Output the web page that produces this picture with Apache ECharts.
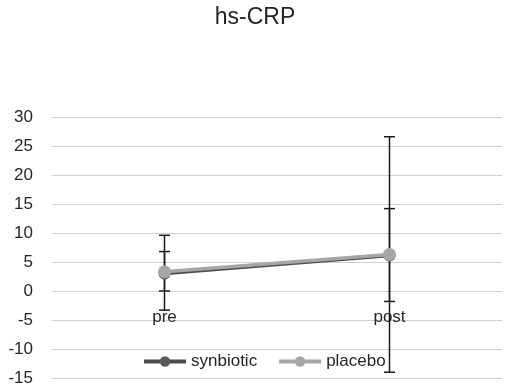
<!DOCTYPE html>
<html>
<head>
<meta charset="utf-8">
<script src="https://cdn.jsdelivr.net/npm/echarts@6/dist/echarts.min.js"></script>
<style>
  html, body { margin: 0; padding: 0; background: #fff; }
  #chart { width: 510px; height: 390px; }
</style>
</head>
<body>
<div id="chart"></div>
<script>
var categories = ['pre', 'post'];
var synbiotic = [3.0, 6.1];
var placebo = [3.3, 6.3];
// error bars as [low, high]
var synbioticErr = [[-3.3, 9.6], [-14.0, 26.6]];
var placeboErr = [[0.0, 6.8], [-1.8, 14.2]];
var yTicks = { min: -15, max: 30, step: 5 };

var chart = echarts.init(document.getElementById('chart'));
var font = 'Liberation Sans';

var errData = [];
synbioticErr.forEach(function (e, i) { errData.push([i, e[0], e[1]]); });
placeboErr.forEach(function (e, i) { errData.push([i, e[0], e[1]]); });

var renderErr = function (params, api) {
    var x = api.value(0);
    var lo = api.coord([x, api.value(1)]);
    var hi = api.coord([x, api.value(2)]);
    var w = 5.5;
    var style = { stroke: '#1a1a1a', lineWidth: 1.5 };
    return {
        type: 'group',
        children: [
            { type: 'line', shape: { x1: hi[0], y1: hi[1], x2: lo[0], y2: lo[1] }, style: style },
            { type: 'line', shape: { x1: hi[0] - w, y1: hi[1], x2: hi[0] + w, y2: hi[1] }, style: style },
            { type: 'line', shape: { x1: lo[0] - w, y1: lo[1], x2: lo[0] + w, y2: lo[1] }, style: style }
        ]
    };
};

// grid: 261px for 45 units, zero line sits 15 units above the bottom
var gridBottom = 12;
var zeroOffset = -(261 / 45) * 15;

chart.setOption({
    animation: false,
    backgroundColor: '#ffffff',
    title: {
        text: 'hs-CRP',
        left: 'center',
        top: 1,
        textStyle: { fontFamily: font, fontSize: 23, fontWeight: 'normal', color: '#262626' }
    },
    legend: {
        top: 348,
        left: 137,
        itemWidth: 42,
        itemHeight: 13,
        itemGap: 20,
        data: ['synbiotic', 'placebo'],
        lineStyle: { width: 4 },
        textStyle: { fontFamily: font, fontSize: 17, color: '#262626' }
    },
    grid: { left: 52, right: 8, top: 117, bottom: gridBottom, outerBoundsMode: 'none', containLabel: false },
    xAxis: {
        type: 'category',
        data: categories,
        boundaryGap: true,
        offset: zeroOffset,
        z: 0,
        axisLine: { onZero: false, lineStyle: { color: '#d0d0d0', width: 1 } },
        axisTick: { show: false },
        axisLabel: { fontFamily: font, fontSize: 17, color: '#262626', margin: 18 }
    },
    yAxis: {
        type: 'value',
        min: yTicks.min,
        max: yTicks.max,
        interval: yTicks.step,
        axisLine: { show: false },
        axisTick: { show: false },
        splitLine: { lineStyle: { color: '#d0d0d0', width: 1 } },
        axisLabel: { fontFamily: font, fontSize: 17, color: '#262626', margin: 19 }
    },
    series: [
        {
            name: 'errors',
            type: 'custom',
            renderItem: renderErr,
            data: errData,
            z: 5,
            encode: { x: 0, y: [1, 2] }
        },
        {
            name: 'synbiotic',
            type: 'line',
            data: synbiotic,
            symbol: 'circle',
            symbolSize: 12,
            z: 6,
            itemStyle: { color: '#5a5a5a' },
            lineStyle: { color: '#4d4d4d', width: 3.5 }
        },
        {
            name: 'placebo',
            type: 'line',
            data: placebo,
            symbol: 'circle',
            symbolSize: 13,
            z: 7,
            itemStyle: { color: '#a6a6a6' },
            lineStyle: { color: '#a6a6a6', width: 3.5 }
        }
    ]
});
</script>
</body>
</html>
